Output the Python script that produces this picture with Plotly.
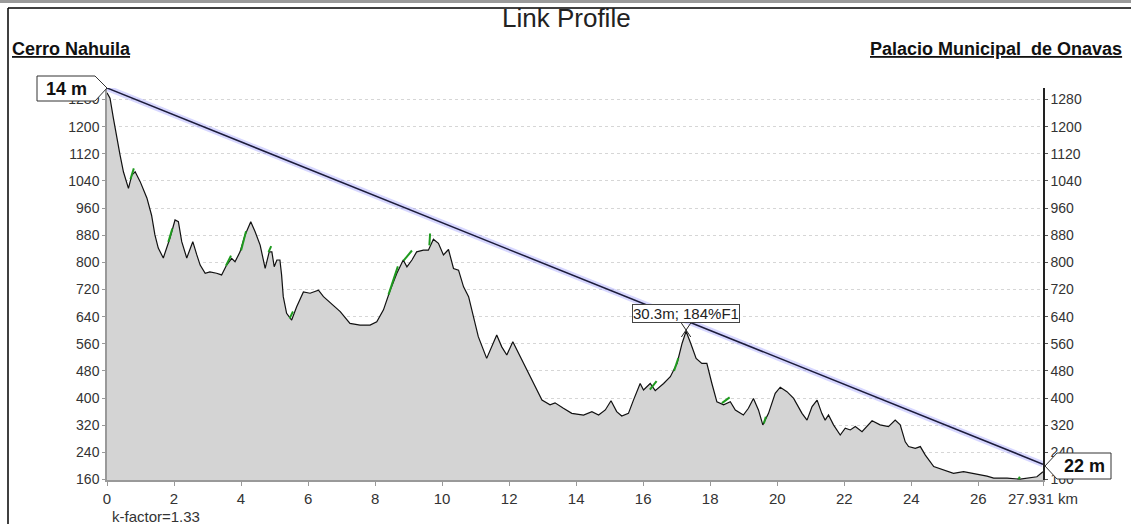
import plotly.graph_objects as go

# terrain profile (distance km, elevation m)
dist_km = [0.00, 0.09, 0.19, 0.29, 0.39, 0.49, 0.64, 0.74, 0.84, 0.99,
           1.19, 1.33, 1.43, 1.53, 1.68, 1.88, 2.03, 2.13, 2.23, 2.38,
           2.56, 2.68, 2.78, 2.93, 3.07, 3.27, 3.42, 3.57, 3.72, 3.82,
           3.97, 4.12, 4.29, 4.42, 4.57, 4.72, 4.84, 4.92, 4.99, 5.07,
           5.16, 5.21, 5.26, 5.36, 5.51, 5.66, 5.86, 6.06, 6.16, 6.31,
           6.46, 6.76, 6.96, 7.25, 7.55, 7.85, 8.05, 8.25, 8.45, 8.65,
           8.84, 8.95, 9.10, 9.24, 9.44, 9.59, 9.74, 9.89, 10.04, 10.19,
           10.34, 10.49, 10.64, 10.79, 10.93, 11.08, 11.33, 11.48, 11.63, 11.78,
           11.93, 12.11, 12.33, 12.58, 12.78, 12.98, 13.22, 13.37, 13.62, 13.87,
           14.22, 14.47, 14.67, 14.87, 15.04, 15.21, 15.36, 15.56, 15.71, 15.91,
           16.01, 16.21, 16.36, 16.61, 16.81, 17.01, 17.16, 17.28, 17.42, 17.58,
           17.75, 17.90, 18.05, 18.20, 18.40, 18.60, 18.75, 18.99, 19.14, 19.29,
           19.44, 19.57, 19.74, 19.94, 20.09, 20.29, 20.49, 20.74, 20.89, 21.04,
           21.19, 21.33, 21.43, 21.53, 21.68, 21.88, 22.03, 22.18, 22.33, 22.53,
           22.83, 23.07, 23.32, 23.52, 23.67, 23.82, 23.92, 24.12, 24.27, 24.42,
           24.67, 24.96, 25.26, 25.56, 25.86, 26.26, 26.46, 26.86, 27.25, 27.55,
           27.75, 27.931]
elev_m = [1300, 1284, 1225, 1166, 1116, 1067, 1018, 1057, 1067, 1038,
          990, 939, 881, 842, 813, 872, 925, 920, 861, 813,
          861, 822, 792, 768, 772, 768, 763, 792, 812, 802,
          831, 881, 920, 890, 851, 782, 831, 831, 787, 807,
          807, 763, 699, 650, 630, 669, 713, 709, 713, 718,
          699, 674, 655, 620, 615, 615, 625, 660, 718, 768,
          807, 787, 807, 831, 836, 836, 868, 856, 822, 838,
          782, 777, 728, 699, 640, 581, 517, 551, 586, 551,
          527, 566, 522, 473, 433, 394, 380, 386, 370, 355,
          350, 360, 350, 365, 392, 360, 347, 355, 394, 443,
          424, 443, 422, 443, 463, 502, 561, 597, 561, 517,
          502, 502, 443, 389, 380, 389, 365, 350, 370, 399,
          365, 321, 355, 414, 432, 419, 399, 355, 335, 375,
          394, 355, 335, 350, 321, 291, 311, 306, 316, 301,
          333, 321, 316, 335, 321, 271, 257, 252, 257, 232,
          198, 188, 178, 183, 178, 170, 164, 164, 161, 164,
          168, 183]

# vegetation / obstruction streaks (green)
green_km = [0.70, 0.80, None, 1.83, 1.95, None, 3.55, 3.70, None, 4.00, 4.15, None,
            4.82, 4.90, None, 5.45, 5.55, None, 8.40, 8.68, None, 8.85, 9.10, None,
            9.62, 9.64, None, 16.20, 16.40, None, 16.92, 17.05, None, 18.35, 18.58, None,
            19.60, 19.66, None, 27.20, 27.24]
green_elev = [1045, 1077, None, 860, 900, None, 790, 820, None, 835, 892, None,
              830, 848, None, 635, 655, None, 705, 788, None, 805, 835, None,
              850, 885, None, 425, 450, None, 480, 518, None, 385, 402, None,
              325, 345, None, 161, 168]

ant_left_m = 14
ant_right_m = 22
total_km = 27.931
k_factor = 1.33
clearance_text = "30.3m; 184%F1"
peak_km = 17.28
peak_m = 597

x_ticks = [0, 2, 4, 6, 8, 10, 12, 14, 16, 18, 20, 22, 24, 26, total_km]
x_ticktext = ["0", "2", "4", "6", "8", "10", "12", "14", "16", "18", "20", "22", "24", "26", "27.931 km"]
y_ticks = list(range(160, 1281, 80))

FONT = "Arial, Liberation Sans, sans-serif"

# plot area in pixels: x 107..1043, y 88..480
def px(xp):
    return (xp - 107) / 936

def py(yp):
    return (480 - yp) / 392

line_y = [elev_m[0] + ant_left_m, elev_m[-1] + ant_right_m]

fig = go.Figure()

fig.add_trace(go.Scatter(
    x=dist_km, y=elev_m, mode='lines',
    fill='tozeroy', fillcolor='#d4d4d4',
    line=dict(color='#111111', width=1.2),
    hoverinfo='skip', showlegend=False
))

fig.add_trace(go.Scatter(
    x=green_km, y=green_elev, mode='lines',
    line=dict(color='#1f9a1f', width=2),
    hoverinfo='skip', showlegend=False
))

# fresnel band + line of sight
fig.add_trace(go.Scatter(
    x=[0, total_km], y=line_y, mode='lines',
    line=dict(color='rgba(140,140,255,0.35)', width=6),
    cliponaxis=False, hoverinfo='skip', showlegend=False
))
fig.add_trace(go.Scatter(
    x=[0, total_km], y=line_y, mode='lines',
    line=dict(color='#1c1c3a', width=1.5),
    cliponaxis=False, hoverinfo='skip', showlegend=False
))

# dummy trace to show the right axis
fig.add_trace(go.Scatter(
    x=[0], y=[160], yaxis='y2', mode='markers',
    marker=dict(opacity=0), hoverinfo='skip', showlegend=False
))

shapes = [
    # frame
    dict(type='rect', xref='paper', yref='paper', x0=px(0), x1=px(1131), y0=py(3), y1=py(0),
         fillcolor='#9a9a9a', line=dict(width=0)),
    dict(type='line', xref='paper', yref='paper', x0=px(8), x1=px(1131), y0=py(8), y1=py(8),
         line=dict(color='black', width=1.5)),
    dict(type='line', xref='paper', yref='paper', x0=px(8), x1=px(8), y0=py(8), y1=py(524),
         line=dict(color='black', width=1.5)),
    # antenna callouts
    dict(type='path', xref='paper', yref='paper',
         path=f"M {px(37)},{py(76)} L {px(95)},{py(76)} L {px(107)},{py(88)} "
              f"L {px(95)},{py(101)} L {px(37)},{py(101)} Z",
         fillcolor='white', line=dict(color='#333333', width=1)),
    dict(type='path', xref='paper', yref='paper',
         path=f"M {px(1045)},{py(466)} L {px(1057)},{py(453)} L {px(1111)},{py(453)} "
              f"L {px(1111)},{py(479)} L {px(1057)},{py(479)} Z",
         fillcolor='white', line=dict(color='#333333', width=1)),
    # clearance pointer
    dict(type='line', x0=peak_km - 0.14, x1=peak_km + 0.14, y0=peak_m + 24, y1=peak_m - 17,
         line=dict(color='#222222', width=1)),
    dict(type='line', x0=peak_km + 0.14, x1=peak_km - 0.14, y0=peak_m + 24, y1=peak_m - 17,
         line=dict(color='#222222', width=1)),
]

annotations = [
    dict(text="Link Profile", xref='paper', yref='paper', x=px(566), y=py(18),
         xanchor='center', yanchor='middle', showarrow=False,
         font=dict(family=FONT, size=26, color='#222222')),
    dict(text="<b><u>Cerro Nahuila</u></b>", xref='paper', yref='paper', x=px(10), y=py(49),
         xanchor='left', yanchor='middle', showarrow=False,
         font=dict(family=FONT, size=18, color='#111111')),
    dict(text="<b><u>Palacio Municipal&nbsp; de Onavas</u></b>", xref='paper', yref='paper',
         x=px(1124), y=py(49), xanchor='right', yanchor='middle', showarrow=False,
         font=dict(family=FONT, size=18, color='#111111')),
    dict(text=f"k-factor={k_factor}", xref='paper', yref='paper', x=px(110), y=py(516),
         xanchor='left', yanchor='middle', showarrow=False,
         font=dict(family=FONT, size=15, color='#333333')),
    dict(text=f"<b>{ant_left_m} m</b>", xref='paper', yref='paper', x=px(66), y=py(89),
         xanchor='center', yanchor='middle', showarrow=False,
         font=dict(family=FONT, size=18, color='#111111')),
    dict(text=f"<b>{ant_right_m} m</b>", xref='paper', yref='paper', x=px(1084), y=py(466),
         xanchor='center', yanchor='middle', showarrow=False,
         font=dict(family=FONT, size=18, color='#111111')),
    dict(text=clearance_text, x=peak_km, y=peak_m + 24, xanchor='center', yanchor='bottom',
         showarrow=False, bgcolor='white', bordercolor='#444444', borderwidth=1, borderpad=0,
         font=dict(family=FONT, size=15, color='#222222')),
]

yrange = [158.5, 1314]

fig.update_layout(
    width=1131, height=524,
    margin=dict(l=107, r=88, t=88, b=44),
    paper_bgcolor='white', plot_bgcolor='white',
    showlegend=False,
    font=dict(family=FONT, color='#333333'),
    xaxis=dict(range=[0, total_km], tickvals=x_ticks, ticktext=x_ticktext,
               showgrid=False, zeroline=False, showline=True, linecolor='#999999', linewidth=1.5,
               ticks='outside', ticklen=4, tickcolor='#999999',
               tickfont=dict(family=FONT, size=15, color='#333333')),
    yaxis=dict(range=yrange, tickvals=y_ticks, showgrid=True, gridcolor='#d6d6d6', griddash='dot',
               zeroline=False, showline=True, linecolor='#999999', linewidth=1.5,
               ticks='outside', ticklen=3, tickcolor='#999999',
               tickfont=dict(family=FONT, size=14, color='#333333')),
    yaxis2=dict(range=yrange, tickvals=y_ticks, overlaying='y', side='right',
                showgrid=False, zeroline=False, showline=True, linecolor='#222222', linewidth=1.5,
                ticks='outside', ticklen=3, tickcolor='#555555',
                tickfont=dict(family=FONT, size=14, color='#333333')),
    shapes=shapes,
    annotations=annotations,
)

fig.write_html("out.html", config={'displayModeBar': False},
               post_script="document.body.style.margin='0px';document.body.style.overflow='hidden';")
